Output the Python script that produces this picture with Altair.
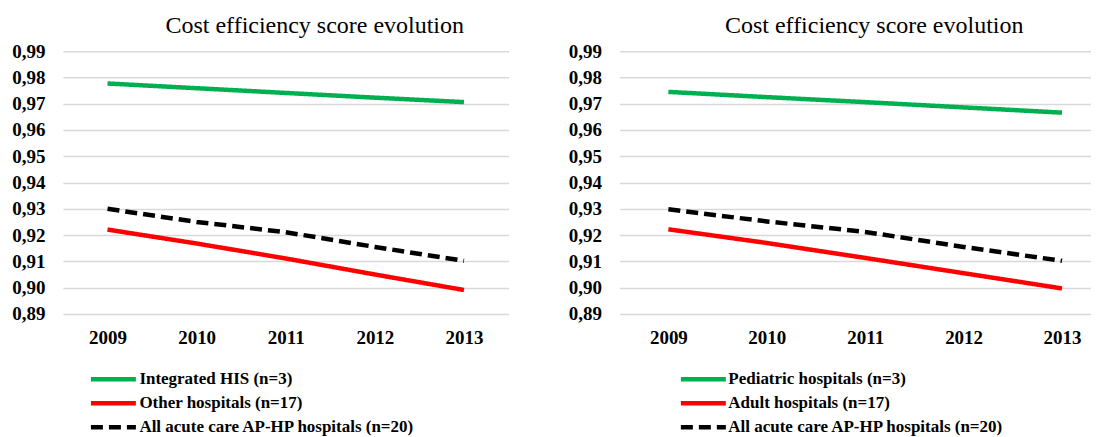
import altair as alt
import pandas as pd

years = [2009, 2010, 2011, 2012, 2013]

left_series = ["Integrated HIS (n=3)", "Other hospitals (n=17)", "All acute care AP-HP hospitals (n=20)"]
left_green = [0.9777, 0.9759, 0.9741, 0.9723, 0.9706]
left_red = [0.9221, 0.9168, 0.9111, 0.9050, 0.8991]
left_black = [0.9300, 0.9250, 0.9211, 0.9155, 0.9102]

right_series = ["Pediatric hospitals (n=3)", "Adult hospitals (n=17)", "All acute care AP-HP hospitals (n=20)"]
right_green = [0.9745, 0.9725, 0.9706, 0.9686, 0.9666]
right_red = [0.9222, 0.9170, 0.9113, 0.9055, 0.8997]
right_black = [0.9298, 0.9252, 0.9212, 0.9155, 0.9102]

y_ticks = [0.89, 0.90, 0.91, 0.92, 0.93, 0.94, 0.95, 0.96, 0.97, 0.98, 0.99]
title_text = "Cost efficiency score evolution"
colors = ["#00B050", "#FF0000", "#000000"]
dashes = [[1, 0], [1, 0], [12, 6]]

SERIF = "Liberation Serif"


def make_df(series, values):
    rows = []
    for name, vals in zip(series, values):
        for yr, v in zip(years, vals):
            rows.append({"year": yr, "value": v, "series": name})
    return pd.DataFrame(rows)


def panel(series, values, width, pad, align, legend_x, label_off, title_dx):
    df = make_df(series, values)
    legend = alt.Legend(
        title=None, orient="none", legendX=legend_x, legendY=317,
        symbolType="M-2.5,0H2.5", symbolSize=324, symbolStrokeWidth=4.5,
        labelFont=SERIF, labelFontSize=17, labelFontWeight="bold", labelColor="black",
        labelOffset=label_off, rowPadding=3, padding=0, direction="vertical", labelLimit=500,
    )
    return alt.Chart(df).mark_line(strokeWidth=4.5, strokeCap="butt").encode(
        x=alt.X("year:O", scale=alt.Scale(type="point", padding=pad, align=align),
                axis=alt.Axis(title=None, labelAngle=0, domain=False, ticks=False, tickSize=0,
                              grid=False, labelFont=SERIF, labelFontSize=19, labelFontWeight="bold",
                              labelColor="black", labelPadding=15)),
        y=alt.Y("value:Q", scale=alt.Scale(domain=[0.89, 0.99], nice=False, zero=False),
                axis=alt.Axis(title=None, values=y_ticks, domain=False, ticks=False, tickSize=0,
                              labelExpr="replace(format(datum.value, '.2f'), '.', ',')",
                              grid=True, gridColor="#d9d9d9", gridWidth=1.5,
                              labelFont=SERIF, labelFontSize=19, labelFontWeight="bold",
                              labelColor="black", labelPadding=18)),
        color=alt.Color("series:N", scale=alt.Scale(domain=series, range=colors), legend=legend),
        strokeDash=alt.StrokeDash("series:N", scale=alt.Scale(domain=series, range=dashes), legend=legend),
    ).properties(
        width=width, height=263,
        title=alt.Title(title_text, font=SERIF, fontSize=24, fontWeight="normal", color="black",
                        offset=4, dx=title_dx),
    )


left = panel(left_series, [left_green, left_red, left_black], 446, 0.5, 0.5, 39, 14.5, 29)
right = panel(right_series, [right_green, right_red, right_black], 472, 0.396, 0.628, 72.5, 13.5, 19)

chart = alt.hconcat(left, right, spacing=59).resolve_scale(
    color="independent", strokeDash="independent", x="independent", y="independent"
).resolve_legend(color="independent", strokeDash="independent").configure_view(
    stroke=None
).properties(
    padding={"left": 3, "top": 6, "right": 0, "bottom": 0}
)

chart.save("out.html", embed_options={"renderer": "svg", "actions": False})
